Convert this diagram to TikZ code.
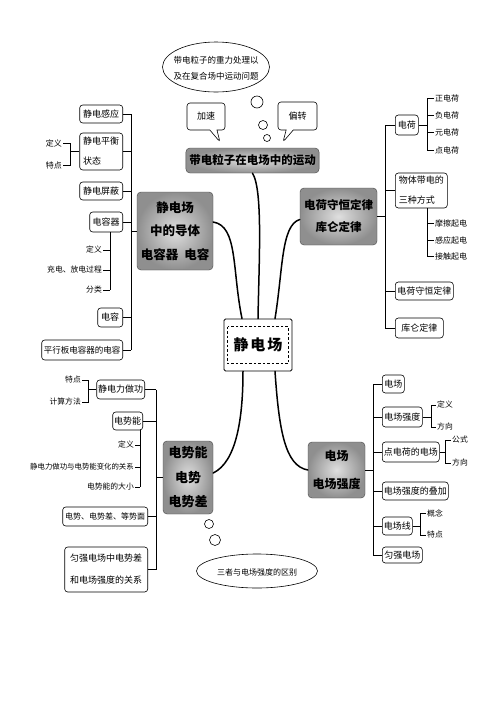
\documentclass[tikz,border=0pt]{standalone}
\usepackage{fontspec}
\setmainfont{Noto Sans CJK SC}
\usetikzlibrary{shapes.geometric,shapes.callouts,calc}
\begin{document}
\begin{tikzpicture}[x=1pt,y=-1pt,
  sbox/.style={draw, rounded corners=3pt, line width=0.6pt, fill=white, inner sep=1.5pt, font=\fontsize{9}{11}\selectfont, align=left},
  subt/.style={inner sep=1pt, font=\fontsize{7.8}{9}\selectfont},
  subr/.style={inner sep=1pt, font=\fontsize{8}{9}\selectfont},
  conn/.style={line width=0.6pt},
  trunk/.style={line width=1.5pt, line cap=round},
  mainbox/.style={rounded corners=4pt, draw=gray!55!black, line width=0.4pt, inner color=gray!25, outer color=gray!88, align=center},
  bubble/.style={circle, draw, line width=0.6pt, inner sep=0pt},
  callbox/.style={rectangle callout, draw, line width=0.6pt, rounded corners=3pt, fill=white, font=\fontsize{9}{11}\selectfont},
]
\fill[white] (0,0) rectangle (496,702);
\useasboundingbox (0,0) rectangle (496,702);

% ---------- top thought ellipse ----------
\draw[line width=0.6pt] (216,67) ellipse [x radius=53.5, y radius=25];
\node[align=center, inner sep=0pt, font=\fontsize{8.5}{16}\selectfont] (topq) at (216,68) {带电粒子的重力处理以\\及在复合场中运动问题};
\node[bubble, minimum size=12pt] (b1) at (257,102) {};
\node[bubble, minimum size=9pt] (b2) at (263,125) {};
\node[bubble, minimum size=7pt] (b3) at (267,138) {};

% ---------- callouts ----------
\node[callbox, minimum width=38pt, minimum height=27pt, callout absolute pointer={(220,142)}] (jiasu) at (206,116.5) {加速};
\node[callbox, minimum width=39pt, minimum height=28pt, callout absolute pointer={(283,142)}] (pianzhuan) at (297.5,116) {偏转};

% ---------- main nodes ----------
\node[mainbox, minimum width=131pt, minimum height=25pt, font=\bfseries\fontsize{11.5}{13}\selectfont] (mtitle) at (252.5,160.5) {带电粒子在电场中的运动};
\node[mainbox, minimum width=76pt, minimum height=78pt, font=\bfseries\fontsize{12.5}{23.5}\selectfont] (mleft) at (175,231) {静电场\\中的导体\\电容器\hspace{6pt}电容};
\node[mainbox, minimum width=77pt, minimum height=57pt, font=\bfseries\fontsize{11.5}{22}\selectfont] (mright) at (338.5,216.5) {电荷守恒定律\\库仑定律};
\node[mainbox, minimum width=50pt, minimum height=73pt, font=\bfseries\fontsize{13}{24.5}\selectfont] (mbl) at (188,477.5) {电势能\\电势\\电势差};
\node[mainbox, minimum width=57pt, minimum height=56pt, font=\bfseries\fontsize{12}{28}\selectfont] (mbr) at (336.5,470) {电场\\电场强度};

\node[draw, line width=0.8pt, fill=white, rounded corners=1.5pt, minimum width=68pt, minimum height=52pt, font=\bfseries\fontsize{15}{15}\selectfont] (center) at (258,345) {静\hspace{2pt}电\hspace{2pt}场};
\draw[line width=0.5pt, dash pattern=on 2.5pt off 2pt] ($(center.north west)+(4,8)$) rectangle ($(center.south east)+(-4,-8)$);

% ---------- trunks ----------
\draw[trunk] (center.north) .. controls (259,260) and (263,190) .. (mtitle.south);
\draw[trunk] ([xshift=-16pt]center.north) .. controls (232,270) and (238,226) .. ([yshift=9pt]mleft.east);
\draw[trunk] ([xshift=17pt]center.north) .. controls (283,270) and (281,225) .. ([yshift=-3pt]mright.west);
\draw[trunk] ([xshift=-15pt]center.south) .. controls (243,420) and (236,462) .. ([yshift=4.5pt]mbl.east);
\draw[trunk] ([xshift=17pt]center.south) .. controls (279,430) and (285,466) .. (mbr.west);

% ---------- bottom thought ellipse ----------
\draw[line width=0.6pt] (257,571) ellipse [x radius=60.5, y radius=17];
\node[inner sep=0pt, font=\fontsize{8}{10}\selectfont] (botq) at (257,572) {三者与电场强度的区别};
\node[bubble, minimum size=9pt] (b4) at (209,524) {};
\node[bubble, minimum size=11pt] (b5) at (215,540) {};

% ---------- left group ----------
\node[sbox, minimum width=43pt, minimum height=18pt, anchor=east] (lganying) at (123,114) {静电感应};
\node[sbox, minimum width=43pt, minimum height=37pt, anchor=east, font=\fontsize{9}{20}\selectfont] (lpingheng) at (123,151.5) {静电平衡\\状态};
\node[sbox, minimum width=43pt, minimum height=18pt, anchor=east] (lpingbi) at (123,191) {静电屏蔽};
\node[sbox, minimum width=33pt, minimum height=20pt, anchor=east] (lrongqi) at (123,222) {电容器};
\node[sbox, minimum width=25pt, minimum height=19pt, anchor=east] (lrong) at (123,317.5) {电容};
\node[sbox, minimum width=81pt, minimum height=20pt, anchor=east, font=\fontsize{8.5}{10}\selectfont] (lpxb) at (123,350) {平行板电容器的电容};
\coordinate (lvtop) at (131,114);
\coordinate (lvbot) at (131,350);
\draw[conn] (lvtop) -- (lvbot);
\foreach \n in {lganying,lpingheng,lpingbi,lrongqi,lrong,lpxb} \draw[conn] (\n.east) -- (\n.east -| lvtop);
\draw[conn] (mleft.west) -- (mleft.west -| lvtop);

\node[subr, anchor=east] (ldy) at (63,143) {定义};
\node[subr, anchor=east] (ltd) at (63,165) {特点};
\coordinate (lb1) at (70,143);
\coordinate (lb2) at (70,165);
\draw[conn] (ldy.east) -- (lb1) -- (lb2) -- (ltd.east);
\draw[conn] (lpingheng.west) -- (lpingheng.west -| lb1);

\node[subt, anchor=east] (ldy2) at (103,250) {定义};
\node[subt, anchor=east] (lcf) at (103,270) {充电、放电过程};
\node[subt, anchor=east] (lfl) at (103,290) {分类};
\coordinate (lcb) at (110,290);
\draw[conn] (lcb |- lrongqi.south) -- (lcb);
\foreach \n in {ldy2,lcf,lfl} \draw[conn] (\n.east) -- (\n.east -| lcb);

% ---------- right group ----------
\node[sbox, minimum width=23pt, minimum height=20pt, anchor=west] (rdianhe) at (395,125) {电荷};
\node[sbox, minimum width=52pt, minimum height=35pt, anchor=west, font=\fontsize{9}{20}\selectfont] (rwuti) at (395,190.5) {物体带电的\\三种方式};
\node[sbox, minimum width=58pt, minimum height=18pt, anchor=west] (rshouheng) at (395,291) {电荷守恒定律};
\node[sbox, minimum width=48pt, minimum height=20pt, anchor=west] (rkulun) at (395,328) {库仑定律};
\coordinate (rvtop) at (385,125);
\coordinate (rvbot) at (385,328);
\draw[conn] (rvtop) -- (rvbot);
\foreach \n in {rdianhe,rwuti,rshouheng,rkulun} \draw[conn] (\n.west) -- (\n.west -| rvtop);
\draw[conn] (mright.east) -- (mright.east -| rvtop);

\node[subr, anchor=west] (ra1) at (434,98) {正电荷};
\node[subr, anchor=west] (ra2) at (434,115) {负电荷};
\node[subr, anchor=west] (ra3) at (434,132) {元电荷};
\node[subr, anchor=west] (ra4) at (434,150) {点电荷};
\coordinate (rab) at (427,98);
\draw[conn] (rab) -- (rab |- ra4.west);
\foreach \n in {ra1,ra2,ra3,ra4} \draw[conn] (\n.west) -- (\n.west -| rab);
\draw[conn] (rdianhe.east) -- (rdianhe.east -| rab);

\node[subr, anchor=west] (rb1) at (434,223) {摩擦起电};
\node[subr, anchor=west] (rb2) at (434,240) {感应起电};
\node[subr, anchor=west] (rb3) at (434,256) {接触起电};
\coordinate (rbb) at (427,256);
\draw[conn] (rbb |- rwuti.south) -- (rbb);
\foreach \n in {rb1,rb2,rb3} \draw[conn] (\n.west) -- (\n.west -| rbb);

% ---------- bottom-left group ----------
\node[sbox, minimum width=48pt, minimum height=19pt, anchor=east] (bzuogong) at (145,389.5) {静电力做功};
\node[sbox, minimum width=28pt, minimum height=18pt, anchor=east] (bshineng) at (143,421) {电势能};
\node[sbox, minimum width=85pt, minimum height=19pt, anchor=east, font=\fontsize{8}{10}\selectfont] (bdianshi) at (148,516.5) {电势、电势差、等势面};
\node[sbox, minimum width=83pt, minimum height=45pt, anchor=east, font=\fontsize{9}{22}\selectfont] (byunqiang) at (148,569.5) {匀强电场中电势差\\和电场强度的关系};
\coordinate (bvtop) at (156,389.5);
\coordinate (bvbot) at (156,569.5);
\draw[conn] (bvtop) -- (bvbot);
\foreach \n in {bzuogong,bshineng,bdianshi,byunqiang} \draw[conn] (\n.east) -- (\n.east -| bvtop);
\draw[conn] (mbl.west) -- (mbl.west -| bvtop);

\node[subt, anchor=east] (btd) at (82,380) {特点};
\node[subt, anchor=east] (bjs) at (82,402) {计算方法};
\coordinate (bb1) at (88,380);
\coordinate (bb2) at (88,402);
\draw[conn] (btd.east) -- (bb1) -- (bb2) -- (bjs.east);
\draw[conn] (bzuogong.west) -- (bzuogong.west -| bb1);

\node[subt, anchor=east] (bc1) at (135,445) {定义};
\node[subt, anchor=east, font=\fontsize{7.4}{9}\selectfont] (bc2) at (135,467) {静电力做功与电势能变化的关系};
\node[subt, anchor=east] (bc3) at (135,487) {电势能的大小};
\coordinate (bcb) at (140,487);
\draw[conn] (bcb |- bshineng.south) -- (bcb);
\foreach \n in {bc1,bc2,bc3} \draw[conn] (\n.east) -- (\n.east -| bcb);

% ---------- bottom-right group ----------
\node[sbox, minimum width=22pt, minimum height=18pt, anchor=west] (gchang) at (382,384) {电场};
\node[sbox, minimum width=40pt, minimum height=20pt, anchor=west] (gqiang) at (382,417) {电场强度};
\node[sbox, minimum width=56pt, minimum height=20pt, anchor=west] (gdian) at (382,452) {点电荷的电场};
\node[sbox, minimum width=66pt, minimum height=18pt, anchor=west] (gdie) at (382,491) {电场强度的叠加};
\node[sbox, minimum width=30pt, minimum height=18pt, anchor=west] (gxian) at (382,526) {电场线};
\node[sbox, minimum width=40pt, minimum height=16pt, anchor=west] (gyun) at (382,555) {匀强电场};
\coordinate (gvtop) at (373,384);
\coordinate (gvbot) at (373,555);
\draw[conn] (gvtop) -- (gvbot);
\foreach \n in {gchang,gqiang,gdian,gdie,gxian,gyun} \draw[conn] (\n.west) -- (\n.west -| gvtop);
\draw[conn] (mbr.east) -- (mbr.east -| gvtop);

\node[subt, anchor=west] (gq1) at (436,405) {定义};
\node[subt, anchor=west] (gq2) at (436,427) {方向};
\coordinate (gqb1) at (431,405);
\coordinate (gqb2) at (431,427);
\draw[conn] (gq1.west) -- (gqb1) -- (gqb2) -- (gq2.west);
\draw[conn] (gqiang.east) -- (gqiang.east -| gqb1);

\node[subt, anchor=west] (gd1) at (451,440) {公式};
\node[subt, anchor=west] (gd2) at (451,463) {方向};
\coordinate (gdb1) at (445,440);
\coordinate (gdb2) at (445,463);
\draw[conn] (gd1.west) -- (gdb1) -- (gdb2) -- (gd2.west);
\draw[conn] (gdian.east) -- (gdian.east -| gdb1);

\node[subt, anchor=west] (gx1) at (426,513) {概念};
\node[subt, anchor=west] (gx2) at (426,535) {特点};
\coordinate (gxb1) at (420,513);
\coordinate (gxb2) at (420,535);
\draw[conn] (gx1.west) -- (gxb1) -- (gxb2) -- (gx2.west);
\draw[conn] (gxian.east) -- (gxian.east -| gxb1);
\end{tikzpicture}
\end{document}
